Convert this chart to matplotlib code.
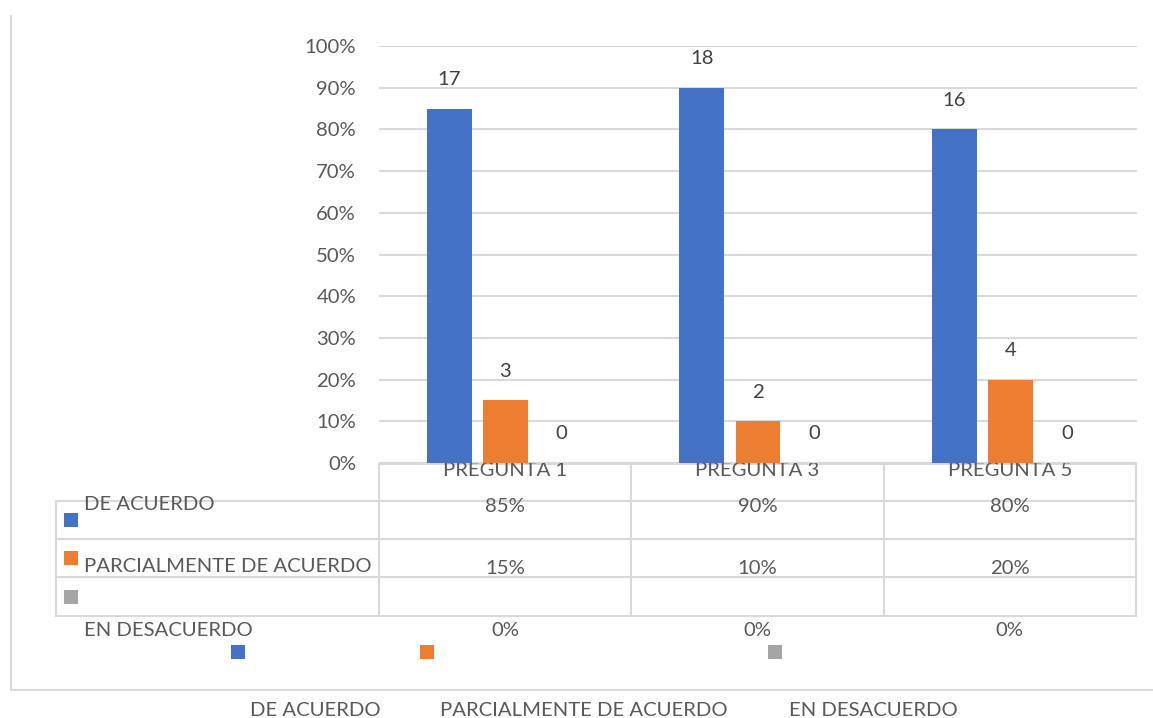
import numpy as np
import matplotlib
matplotlib.use('Agg')
import matplotlib.pyplot as plt
from matplotlib.patches import Rectangle

plt.rcParams['font.family'] = ['Lato', 'DejaVu Sans']

CATEGORIES = ['PREGUNTA 1', 'PREGUNTA 3', 'PREGUNTA 5']
SERIES = ['DE ACUERDO', 'PARCIALMENTE DE ACUERDO', 'EN DESACUERDO']
PCT = [[0.85, 0.90, 0.80],
       [0.15, 0.10, 0.20],
       [0.00, 0.00, 0.00]]
COUNTS = [[17, 18, 16],
          [3, 2, 4],
          [0, 0, 0]]
YTICKS = [0, 0.1, 0.2, 0.3, 0.4, 0.5, 0.6, 0.7, 0.8, 0.9, 1.0]

COLORS = ['#4472C4', '#ED7D31', '#A5A5A5']
TXT = '#595959'
GRID = '#d9d9d9'
FS = 14.6
W, H = 1153, 718

fig = plt.figure(figsize=(W / 100, H / 100), dpi=100, facecolor='white')

# overlay in pixel coords for frame / table / legend
ov = fig.add_axes([0, 0, 1, 1])
ov.set_xlim(0, W); ov.set_ylim(H, 0); ov.axis('off')

# bar area
x0, x1, y0, y1 = 379, 1137, 463, 46
ax = fig.add_axes([x0 / W, (H - y0) / H, (x1 - x0) / W, (y0 - y1) / H])
x = np.arange(len(CATEGORIES))
bw, off = 0.178, 0.222
for i, (name, vals) in enumerate(zip(SERIES, PCT)):
    xs = x + (i - 1) * off
    ax.bar(xs, vals, width=bw, color=COLORS[i], zorder=3)
    for xi, v, c in zip(xs, vals, COUNTS[i]):
        ax.annotate(str(c), (xi, v), xytext=(0, 21), textcoords='offset points',
                    ha='center', va='center', fontsize=FS, color='#404040')
ax.set_xlim(-0.5, len(CATEGORIES) - 0.5)
ax.set_ylim(0, 1)
ax.set_yticks(YTICKS)
ax.set_yticklabels([f'{int(round(t * 100))}%' for t in YTICKS], fontsize=FS, color=TXT)
ax.tick_params(axis='y', length=0, pad=16.5)
ax.set_xticks([])
ax.grid(axis='y', color=GRID, lw=1.5, zorder=0)
for s in ax.spines.values():
    s.set_visible(False)

# outer frame (left + bottom only)
ov.plot([11, 11], [16, 690], color=GRID, lw=1.5)
ov.plot([11, W], [690, 690], color=GRID, lw=1.5)

# data table
tl, tr = 379, 1136
cw = (tr - tl) / len(CATEGORIES)
rows = [464, 501, 539, 577, 616]
ov.plot([tl, tr], [rows[0]] * 2, color=GRID, lw=1.5)
for ry in rows[1:]:
    ov.plot([56, tr], [ry, ry], color=GRID, lw=1.5)
ov.plot([56, 56], [rows[1], rows[-1]], color=GRID, lw=1.5)
for j in range(len(CATEGORIES) + 1):
    xx = tl + j * cw
    ov.plot([xx, xx], [rows[0], rows[-1]], color=GRID, lw=1.5)

for j, cat in enumerate(CATEGORIES):
    ov.text(tl + (j + 0.5) * cw, 471, cat, ha='center', va='center', fontsize=FS, color=TXT)

val_y = [506, 568, 631]
lab_y = [505, 566, 631]
sq_y = [513, 551, 590]
for i, name in enumerate(SERIES):
    for j in range(len(CATEGORIES)):
        ov.text(tl + (j + 0.5) * cw, val_y[i], f'{int(round(PCT[i][j] * 100))}%',
                ha='center', va='center', fontsize=FS, color=TXT)
    ov.text(84, lab_y[i], name, ha='left', va='center', fontsize=FS, color=TXT)
    ov.add_patch(Rectangle((64, sq_y[i]), 14, 14, color=COLORS[i], lw=0))

# bottom legend (squares detached from labels)
sq_x = [231, 420, 768]
lab_x = [250, 440, 789]
for i, name in enumerate(SERIES):
    ov.add_patch(Rectangle((sq_x[i], 645), 14, 14, color=COLORS[i], lw=0))
    ov.text(lab_x[i], 710, name, ha='left', va='center', fontsize=FS, color=TXT)

fig.savefig('out.png', dpi=100, facecolor='white')
